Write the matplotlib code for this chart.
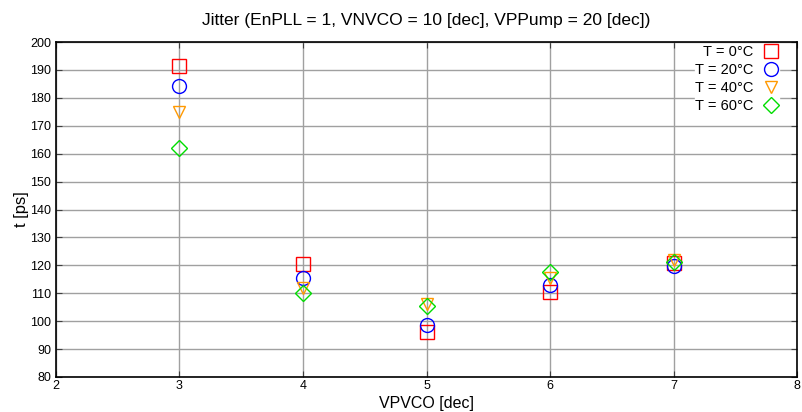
import matplotlib
matplotlib.use("Agg")
import matplotlib.pyplot as plt

plt.rcParams['font.family'] = ['Liberation Sans', 'DejaVu Sans']

vpvco = [3, 4, 5, 6, 7]
t0 = [191.3, 120.3, 96.0, 110.3, 121.0]
t20 = [184.2, 115.6, 98.8, 113.0, 119.6]
t40 = [174.8, 112.0, 106.0, 115.5, 121.8]
t60 = [162.0, 110.0, 105.3, 117.5, 121.3]
labels = ['T = 0°C', 'T = 20°C', 'T = 40°C', 'T = 60°C']

fig = plt.figure(figsize=(8.02, 4.12), dpi=100)
ax = fig.add_axes([0.0698, 0.085, 0.9240, 0.813])

styles = [('s', '#FF0000', 10), ('o', '#0000FF', 10), ('v', '#FF9900', 9), ('D', '#00DD00', 8)]
for ys, lab, (m, c, ms) in zip([t0, t20, t40, t60], labels, styles):
    ax.plot(vpvco, ys, linestyle='none', marker=m, markersize=ms,
            markerfacecolor='none', markeredgecolor=c, markeredgewidth=1.0, label=lab)

ax.set_xlim(2, 8)
ax.set_ylim(80, 200)
ax.set_xticks(range(2, 9))
ax.set_yticks(range(80, 201, 10))
ax.grid(True, color='#a0a0a0', linewidth=1.0, linestyle='-')
ax.set_axisbelow(True)
ax.tick_params(direction='in', top=True, right=True, labelsize=9, length=4, color='#404040')
ax.tick_params(axis='x', pad=2)
for s in ax.spines.values():
    s.set_linewidth(1.2)
    s.set_color('black')

ax.set_xlabel('VPVCO [dec]', fontsize=11.5, labelpad=3)
ax.set_ylabel('t [ps]', fontsize=12, labelpad=1)
ax.set_title('Jitter (EnPLL = 1, VNVCO = 10 [dec], VPPump = 20 [dec])', fontsize=12.5, pad=12)

leg = ax.legend(loc='upper right', bbox_to_anchor=(0.982, 1.003), markerfirst=False,
                frameon=True, fontsize=10.5, handlelength=1.2,
                handletextpad=0.6, labelspacing=0.26, borderaxespad=0.3,
                borderpad=0.0, fancybox=False)
leg.get_frame().set_edgecolor('white')
leg.get_frame().set_facecolor('white')
leg.get_frame().set_alpha(1.0)

fig.savefig('out.png', dpi=100)
